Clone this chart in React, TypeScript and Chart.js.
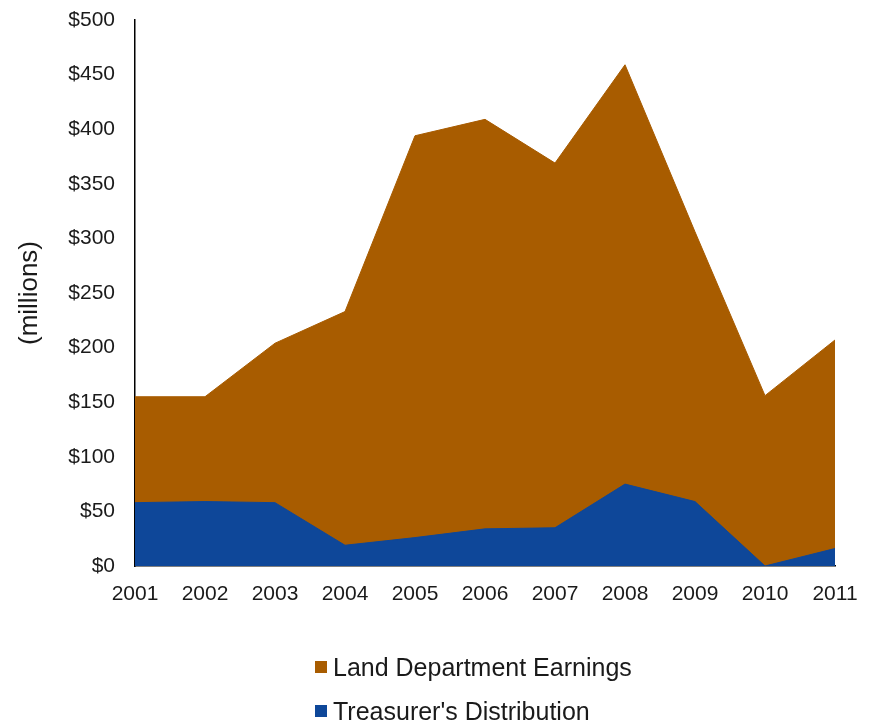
import React, { useEffect, useRef } from "react";
import { Chart, registerables } from "chart.js";

Chart.register(...registerables);

const years = ["2001", "2002", "2003", "2004", "2005", "2006", "2007", "2008", "2009", "2010", "2011"];
const landEarnings = [155, 155, 204, 233, 394, 409, 369, 459, 306, 156, 207];
const treasurerDist = [58, 59, 58, 19, 26, 34, 35, 75, 59, 0, 16];
const seriesNames = ["Land Department Earnings", "Treasurer's Distribution"];
const seriesColors = ["#A85C00", "#0E4799"];
const yTicksMax = 500;
const yStep = 50;
const yTitle = "(millions)";

const FONT = "'Liberation Sans', Arial, Helvetica, sans-serif";
const TEXT = "#1a1a1a";

export default function App() {
  const ref = useRef<HTMLCanvasElement | null>(null);

  useEffect(() => {
    if (!ref.current) return;
    const chart = new Chart(ref.current, {
      type: "line",
      data: {
        labels: years,
        datasets: [
          {
            label: seriesNames[0],
            data: landEarnings,
            backgroundColor: seriesColors[0],
            borderColor: seriesColors[0],
            borderWidth: 1,
            fill: "origin",
            pointRadius: 0,
            tension: 0,
            order: 2,
          },
          {
            label: seriesNames[1],
            data: treasurerDist,
            backgroundColor: seriesColors[1],
            borderColor: seriesColors[1],
            borderWidth: 1,
            fill: "origin",
            pointRadius: 0,
            tension: 0,
            order: 1,
          },
        ],
      },
      options: {
        animation: false,
        responsive: false,
        maintainAspectRatio: false,
        layout: { padding: { left: 0, top: 20, right: 43, bottom: 117 } },
        plugins: {
          legend: { display: false },
          tooltip: { enabled: false },
        },
        scales: {
          x: {
            offset: false,
            grid: { display: true, drawOnChartArea: false, drawTicks: false },
            border: { display: true, color: "#000", width: 1.5 },
            ticks: {
              padding: 16,
              color: TEXT,
              font: { family: FONT, size: 21 },
              maxRotation: 0,
              autoSkip: false,
            },
            afterFit: (scale: any) => {
              scale.height = 40;
            },
          },
          y: {
            min: 0,
            max: yTicksMax,
            grid: {
              display: true,
              drawOnChartArea: false,
              drawTicks: true,
              tickLength: 20,
              tickColor: "rgba(0,0,0,0)",
            },
            border: { display: true, color: "#000", width: 1.5 },
            ticks: {
              stepSize: yStep,
              padding: 0,
              color: TEXT,
              font: { family: FONT, size: 21 },
              callback: (v: any) => "$" + v,
            },
            title: {
              display: true,
              text: yTitle,
              color: TEXT,
              font: { family: FONT, size: 26 },
              padding: { top: 14, bottom: 0 },
            },
            afterFit: (scale: any) => {
              scale.width = 135;
            },
          },
        },
      },
    });
    return () => chart.destroy();
  }, []);

  return (
    <div style={{ position: "absolute", left: 0, top: 0, width: 878, height: 723, background: "#fff" }}>
      <canvas ref={ref} width={878} height={723} style={{ display: "block", width: 878, height: 723 }} />
      <div style={{ position: "absolute", left: 315, top: 652, fontFamily: FONT, fontSize: 25, color: TEXT }}>
        {seriesNames.map((name, i) => (
          <div key={name} style={{ display: "flex", alignItems: "center", height: 30, marginBottom: 14 }}>
            <span style={{ display: "inline-block", width: 12, height: 12, background: seriesColors[i], marginRight: 6 }} />
            <span style={{ whiteSpace: "nowrap" }}>{name}</span>
          </div>
        ))}
      </div>
    </div>
  );
}
